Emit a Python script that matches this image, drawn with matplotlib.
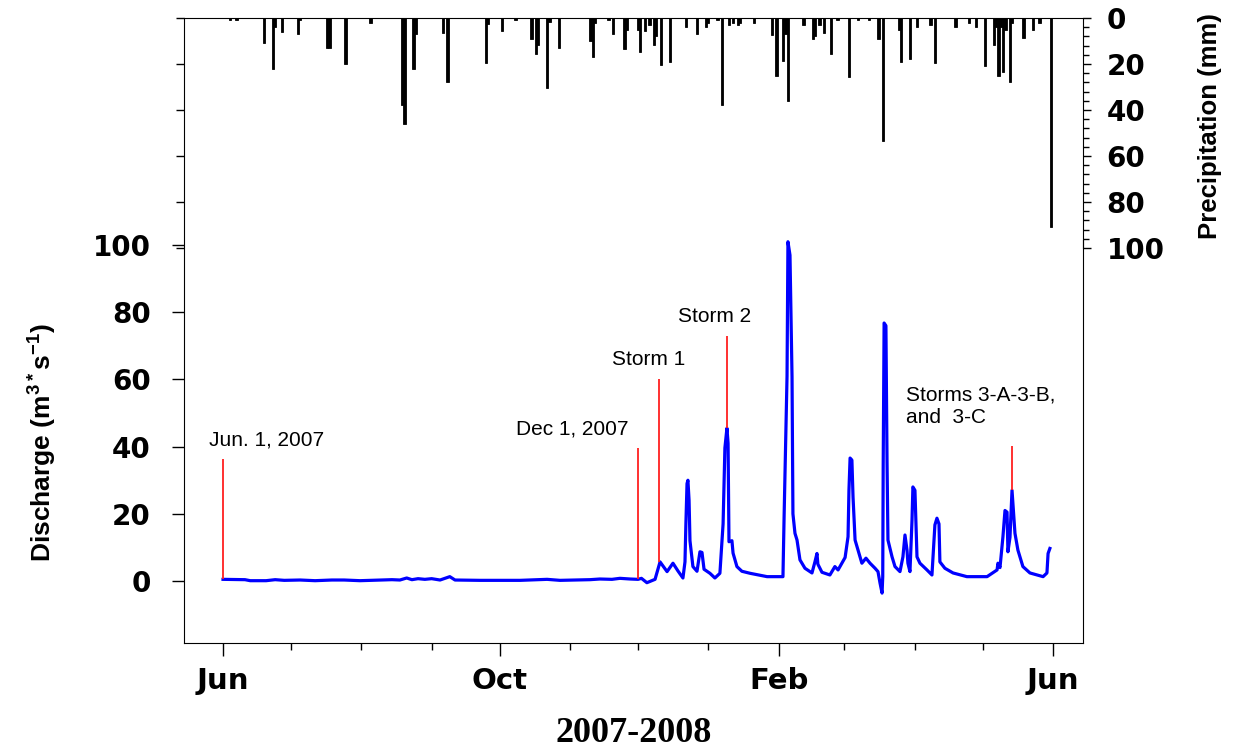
"""Caudal y precipitación diaria, junio 2007 - junio 2008."""

import matplotlib

matplotlib.use("Agg")
import matplotlib.pyplot as plt
import pandas as pd

# Precipitación diaria: día desde el 1 de junio de 2007 y milímetros
precip_day = [3, 6, 18, 22, 23, 26, 33, 34, 46, 47, 54, 65, 79, 80, 84, 85,
              97, 99, 116, 117, 123, 129, 136, 138, 139, 143, 144, 148, 162,
              163, 164, 170, 172, 177, 178, 183, 184, 186, 188, 190, 191, 193,
              197, 204, 209, 213, 214, 218, 220, 223, 225, 227, 228, 234, 242,
              244, 247, 248, 249, 256, 260, 261, 263, 265, 268, 271, 276, 280,
              285, 289, 291, 298, 299, 303, 306, 312, 314, 323, 329, 332, 336,
              340, 341, 342, 343, 344, 345, 347, 348, 353, 357, 360, 365]
precip_mm = [1, 1, 11, 22, 4, 6, 7, 1, 13, 13, 20, 2, 38, 46, 22, 7,
             6.5, 28, 19.5, 2.6, 5.5, 1, 9, 15.6, 11.7, 30.6, 1.6, 13, 10,
             17, 2, 1, 7, 13.6, 5, 5.2, 14.6, 5.5, 3, 11.7, 8, 20.4,
             19, 4, 7, 4, 2, 1, 38, 3, 2, 3, 2, 2, 7.5,
             25, 18.5, 7, 36, 3, 9, 8, 3, 6.5, 15.6, 1, 25.5, 1,
             1, 9, 53.6, 5, 19, 18, 4, 3, 19.6, 4, 2, 4, 21,
             11.7, 4, 25, 4, 23.6, 5, 28, 2, 8.7, 5, 2, 91]

# Caudal (m3/s)
flow_day = [0, 9.7, 12, 19, 23, 27, 34, 40.6, 48, 53.4, 60.4, 74.5, 78, 81,
            83.3, 86, 89, 92, 95.7, 100, 102.3, 113.3, 131, 142.9, 148.6,
            161.8, 166.2, 171.5, 175, 179.5, 183, 184.5, 186.9, 190.5, 192.7,
            195.8, 198.4, 200.6, 202.8, 203.7, 204.1, 204.6, 205.0, 205.5,
            205.9, 207.2, 209.0, 210.3, 211.2, 212.1, 214.7, 216.9, 219.1,
            220.5, 221.3, 222.2, 222.7, 223.1, 224.4, 224.9, 226.6, 228.8,
            232.4, 239.9, 245.6, 246.9, 247.4, 248.7, 249.1, 250.0, 250.9,
            251.3, 252.2, 253.1, 254.4, 256.6, 259.7, 261.0, 261.9, 262.3,
            264.1, 267.6, 269.8, 271.2, 272.9, 274.3, 275.6, 276.0, 276.5,
            277.3, 277.8, 278.7, 280.0, 281.7, 283.5, 285.3, 287.5, 288.8,
            289.7, 290.6, 290.9, 291.1, 291.5, 292.3, 292.8, 293.2, 295.0,
            296.3, 298.5, 299.8, 300.7, 301.6, 302.0, 302.9, 303.8, 304.2,
            305.1, 306.0, 307.3, 310.4, 312.6, 313.9, 314.8, 315.7, 316.1,
            318.3, 321.9, 328.0, 336.9, 341.3, 341.7, 342.6, 343.9, 344.8,
            345.7, 346.1, 347.0, 347.9, 348.3, 349.2, 350.5, 352.7, 355.8,
            361.6, 363.3, 363.8, 364.6]
flow_q = [0.5, 0.4, 0.1, 0.1, 0.4, 0.2, 0.3, 0.1, 0.3, 0.3, 0.1, 0.4, 0.3, 0.9,
          0.4, 0.7, 0.5, 0.7, 0.3, 1.3, 0.3, 0.2, 0.2, 0.5, 0.2,
          0.4, 0.6, 0.5, 0.8, 0.6, 0.5, 0.8, -0.5, 0.5, 5.7,
          2.8, 5.3, 3.0, 0.9, 5.7, 17, 29, 30, 24,
          12, 4.3, 2.9, 8.7, 8.5, 3.5, 2.3, 0.9, 2.3,
          17, 39.6, 45.5, 41, 11.7, 12, 8.3, 4.3, 2.9,
          2.3, 1.3, 1.3, 1.3, 19, 61, 101, 97, 60.8,
          20, 14.2, 12.2, 6.3, 3.8, 2.4, 5.7, 8.2, 5.0,
          2.6, 1.8, 4.3, 3.3, 5.3, 7.0, 13.2, 27, 36.6,
          36, 25, 12.2, 9.2, 5.3, 6.8, 5.3, 3.8, 2.8,
          -0.6, -3.6, 1.3, 34.5, 76.8, 76, 35, 12.2, 7.2,
          4.3, 2.8, 7.2, 13.7, 9.2, 5.3, 2.8, 18, 28,
          27, 7.2, 5.3, 3.3, 1.8, 16.7, 18.7, 17, 5.7,
          3.8, 2.4, 1.3, 1.3, 3.3, 5.3, 4.0, 13.2, 21,
          20.5, 8.7, 13, 27, 23, 14.2, 9.2, 4.3, 2.4,
          1.3, 2.4, 8.2, 9.7]

# Marcas rojas y rótulos
marker_day = [0, 183, 192.4, 222.2, 347.9]
marker_low = [0.5, 0.5, 5.7, 45.5, 27]
marker_high = [36.3, 39.6, 60.1, 73.0, 40.2]

note_text = ["Jun. 1, 2007", "Dec 1, 2007", "Storm 1", "Storm 2",
             "Storms 3-A-3-B,\nand  3-C"]
note_day = [-6.2, 178.6, 187.6, 216.7, 301.1]
note_q = [42.0, 45.4, 65.9, 78.6, 52.1]
note_ha = ["left", "right", "center", "center", "left"]

inicio = pd.Timestamp("2007-06-01")
meses = pd.date_range(inicio, "2008-06-01", freq="MS")
dias_mes = list((meses - inicio).days)
dias_mayor = [d for d, m in zip(dias_mes, meses) if m.month in (2, 6, 10)]
rotulos_mayor = [m.strftime("%b") for m in meses if m.month in (2, 6, 10)]

plt.rcParams["font.family"] = ["Liberation Sans", "DejaVu Sans"]
plt.rcParams["mathtext.fontset"] = "custom"
plt.rcParams["mathtext.rm"] = "Liberation Sans"
plt.rcParams["mathtext.bf"] = "Liberation Sans:bold"

fig = plt.figure(figsize=(12.46, 7.53), dpi=100)
ax = fig.add_axes([184 / 1246, 110 / 753, 899 / 1246, 625 / 753])
ax2 = ax.twinx()

fuente_ticks = dict(family="DejaVu Sans", fontweight="bold", fontsize=20)

# caudal
ax.plot(flow_day, flow_q, color="#0000FF", lw=2.3)
ax.vlines(marker_day, marker_low, marker_high, color="#FF2020", lw=1.3)
for texto, d, q, ha in zip(note_text, note_day, note_q, note_ha):
    ax.text(d, q, texto, ha=ha, va="center", fontsize=15,
            linespacing=1.25)

ax.set_xlim(-17.2, 379.2)
ax.set_ylim(-18.45, 167.6)
ax.set_yticks(range(0, 101, 20), [str(v) for v in range(0, 101, 20)],
              **fuente_ticks)
ax.set_xticks(dias_mayor, rotulos_mayor, family="DejaVu Sans",
              fontweight="bold", fontsize=21)
ax.set_xticks(dias_mes, minor=True)
ax.tick_params(axis="y", direction="out", length=9, width=1, pad=15)
ax.tick_params(axis="x", which="major", direction="out", length=9,
               width=1, pad=8)
ax.tick_params(axis="x", which="minor", direction="out", length=5, width=1)
ax.spines["top"].set_visible(False)
ax.spines["right"].set_bounds(-18.45, 101.5)

ax.set_ylabel(r"Discharge (m$^{\mathbf{3*}}$s$^{\mathbf{-1}}$)",
              fontsize=19, fontweight="bold", va="center")
ax.yaxis.set_label_coords(-0.158, 0.32)
ax.set_xlabel("2007-2008", family="Liberation Serif", fontweight="bold",
              fontsize=26, va="center")
ax.xaxis.set_label_coords(0.5, -0.144)

# precipitación, eje invertido arriba
ax2.bar(precip_day, precip_mm, width=1.0, color="black",
        edgecolor="black", linewidth=0.6)
ax2.set_ylim(271.7, 0)
ax2.set_yticks(range(0, 101, 20), [str(v) for v in range(0, 101, 20)],
               **fuente_ticks)
ax2.set_yticks(range(0, 101, 4), minor=True)
ax2.tick_params(axis="y", which="major", left=True, right=True,
                labelleft=False, labelright=True, direction="out",
                length=6, width=1, pad=11)
ax2.tick_params(axis="y", which="minor", left=False, right=True,
                direction="out", length=4, width=1)
ax2.spines["right"].set_bounds(0, 100)
ax2.spines["left"].set_visible(False)
ax2.spines["bottom"].set_visible(False)
ax2.set_ylabel("Precipitation (mm)", fontsize=18.5, fontweight="bold",
               va="center", rotation=90)
ax2.yaxis.set_label_coords(1.141, 0.827)

fig.savefig("out.png", dpi=100)
plt.close(fig)
